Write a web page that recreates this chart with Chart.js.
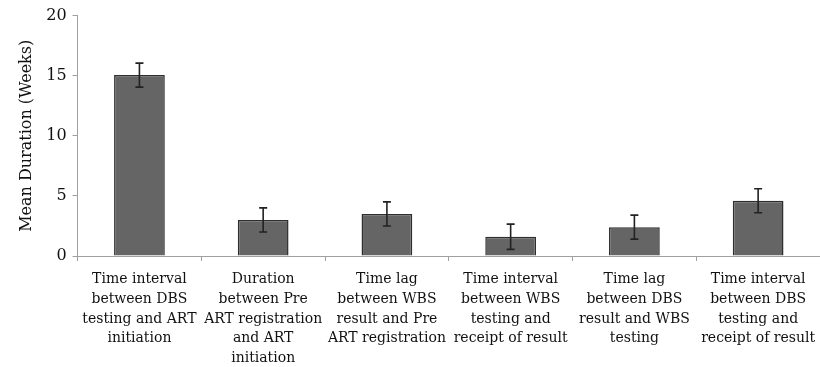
<!DOCTYPE html>
<html>
<head>
<meta charset="utf-8">
<script src="https://cdn.jsdelivr.net/npm/chart.js@4.4.0/dist/chart.umd.min.js"></script>
<style>
  body { margin: 0; background: #fff; }
  #wrap { width: 820px; height: 367px; }
</style>
</head>
<body>
<div id="wrap"><canvas id="miGrafico" width="820" height="367"></canvas></div>
<script>
const categories = [
  ["Time interval", "between DBS", "testing and ART", "initiation"],
  ["Duration", "between Pre", "ART registration", "and ART", "initiation"],
  ["Time lag", "between WBS", "result and Pre", "ART registration"],
  ["Time interval", "between WBS", "testing and", "receipt of result"],
  ["Time lag", "between DBS", "result and WBS", "testing"],
  ["Time interval", "between DBS", "testing and", "receipt of result"]
];
const meanWeeks = [15.05, 3.0, 3.5, 1.6, 2.4, 4.6];
const errWeeks = [1.0, 1.0, 1.0, 1.05, 1.0, 1.0];

const serif = "'DejaVu Serif', serif";

// draws the +/- error bars on top of each bar
const errorBars = {
  id: "errorBars",
  afterDatasetsDraw(chart) {
    const ctx = chart.ctx;
    const yScale = chart.scales.y;
    const meta = chart.getDatasetMeta(0);
    ctx.save();
    ctx.strokeStyle = "#222222";
    ctx.lineWidth = 1.6;
    meta.data.forEach((bar, i) => {
      const top = yScale.getPixelForValue(meanWeeks[i] + errWeeks[i]);
      const bot = yScale.getPixelForValue(meanWeeks[i] - errWeeks[i]);
      const x = bar.x;
      ctx.beginPath();
      ctx.moveTo(x, top);
      ctx.lineTo(x, bot);
      ctx.moveTo(x - 4, top);
      ctx.lineTo(x + 4, top);
      ctx.moveTo(x - 4, bot);
      ctx.lineTo(x + 4, bot);
      ctx.stroke();
    });
    ctx.restore();
  }
};

let ctx = document.getElementById("miGrafico").getContext("2d");

let chart = new Chart(ctx, {
  type: "bar",
  data: {
    labels: categories,
    datasets: [
      {
        label: "Mean Duration",
        data: meanWeeks,
        backgroundColor: "#656565",
        borderColor: "#2e2e2e",
        borderWidth: 1.5,
        categoryPercentage: 1,
        barPercentage: 0.41
      }
    ]
  },
  options: {
    responsive: false,
    animation: false,
    layout: { padding: { top: 6, right: 0, left: 13, bottom: 0 } },
    plugins: {
      legend: { display: false },
      tooltip: { enabled: false }
    },
    scales: {
      x: {
        afterFit: (scale) => {
          scale.height = 111;
          scale.paddingRight = 0;
        },
        grid: {
          drawOnChartArea: false,
          drawTicks: true,
          tickLength: 5,
          color: "#a0a0a0"
        },
        border: { color: "#a0a0a0", width: 1 },
        ticks: {
          color: "#111111",
          maxRotation: 0,
          autoSkip: false,
          padding: 9,
          font: { family: serif, size: 14, lineHeight: 1.4 }
        }
      },
      y: {
        min: 0,
        max: 20,
        grid: {
          drawOnChartArea: false,
          drawTicks: true,
          tickLength: 5,
          color: "#a0a0a0"
        },
        border: { color: "#a0a0a0", width: 1 },
        ticks: {
          stepSize: 5,
          color: "#111111",
          padding: 6,
          font: { family: serif, size: 16 }
        },
        title: {
          display: true,
          text: "Mean Duration (Weeks)",
          color: "#111111",
          font: { family: serif, size: 16 }
        }
      }
    }
  },
  plugins: [errorBars]
});
</script>
</body>
</html>
